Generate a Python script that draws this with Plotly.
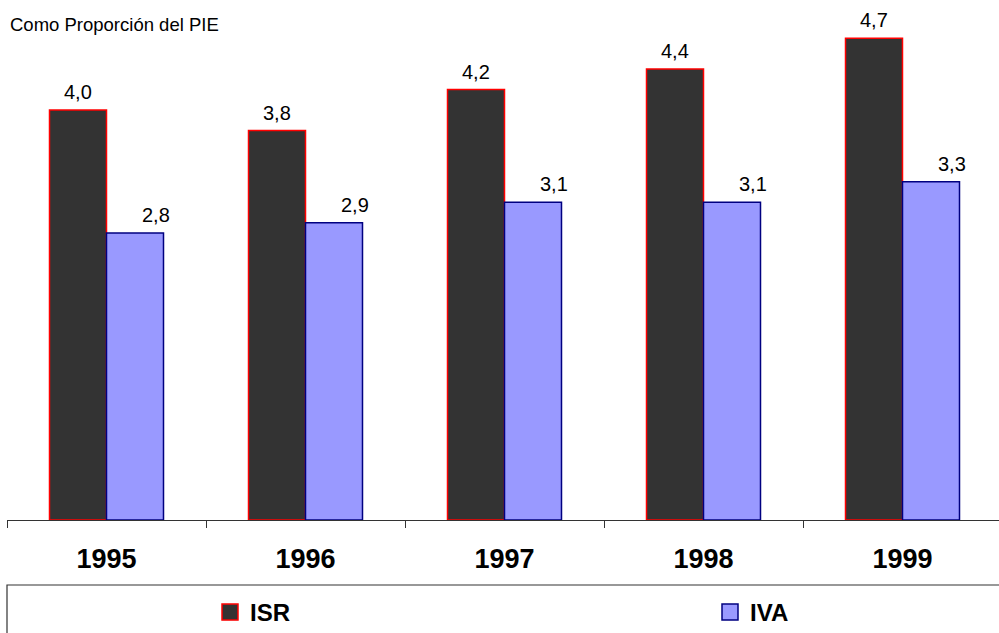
import plotly.graph_objects as go

# Recaudación como proporción del PIB, por año
years = ["1995", "1996", "1997", "1998", "1999"]
isr = [4.0, 3.8, 4.2, 4.4, 4.7]
iva = [2.8, 2.9, 3.1, 3.1, 3.3]

ISR_FILL, ISR_LINE = "#333333", "#FF0000"
IVA_FILL, IVA_LINE = "#9999FF", "#000080"

W, H = 999, 633
ML, MR, MT, MB = 7, 0, 30, 113
plot_w = W - ML - MR
plot_h = H - MT - MB
px_per_cat = 199
bar_px = 57
FONT = "Liberation Sans, Arial, sans-serif"

fig = go.Figure()
fig.add_trace(go.Bar(x=years, y=isr, name="ISR", showlegend=False,
                     marker=dict(color=ISR_FILL, line=dict(color=ISR_LINE, width=1.5))))
fig.add_trace(go.Bar(x=years, y=iva, name="IVA", showlegend=False,
                     marker=dict(color=IVA_FILL, line=dict(color=IVA_LINE, width=1.5))))

# legend entries with larger square swatches, one legend per series
fig.add_trace(go.Scatter(x=[None], y=[None], mode="markers", name="ISR", legend="legend",
                         marker=dict(symbol="square", size=16, color=ISR_FILL,
                                     line=dict(color=ISR_LINE, width=1.5))))
fig.add_trace(go.Scatter(x=[None], y=[None], mode="markers", name="IVA", legend="legend2",
                         marker=dict(symbol="square", size=16, color=IVA_FILL,
                                     line=dict(color=IVA_LINE, width=1.5))))

# value labels above each bar (comma decimal); x given as category index
label_font = dict(family=FONT, size=20, color="#000000")
for i, v in enumerate(isr):
    fig.add_annotation(x=i, y=v, text=f"{v:.1f}".replace(".", ","), showarrow=False,
                       xanchor="center", yanchor="bottom", xshift=-bar_px / 2, yshift=5,
                       font=label_font)
for i, v in enumerate(iva):
    fig.add_annotation(x=i, y=v, text=f"{v:.1f}".replace(".", ","), showarrow=False,
                       xanchor="center", yanchor="bottom", xshift=bar_px / 2 + 21, yshift=5,
                       font=label_font)

# frame around the legend strip
fig.add_shape(type="rect", xref="paper", yref="paper",
              x0=0, x1=1.05, y0=-65 / plot_h, y1=-0.4,
              line=dict(color="#333333", width=1.2), fillcolor="rgba(0,0,0,0)", layer="above")

legend_common = dict(orientation="h", xref="container", yref="container",
                     xanchor="left", y=1 - 590 / H, yanchor="top",
                     bgcolor="rgba(0,0,0,0)", borderwidth=0,
                     font=dict(family=FONT, size=24, color="#000000", weight=700))

fig.update_layout(
    width=W, height=H,
    margin=dict(l=ML, r=MR, t=MT, b=MB, pad=0, autoexpand=False),
    paper_bgcolor="#FFFFFF", plot_bgcolor="#FFFFFF",
    barmode="group", bargap=1 - 2 * bar_px / px_per_cat, bargroupgap=0,
    title=dict(text="Como Proporción del PIE", x=10 / W, xanchor="left",
               y=1 - 25 / H, yanchor="middle",
               font=dict(family=FONT, size=18.5, color="#000000")),
    xaxis=dict(type="category", range=[-0.5, -0.5 + plot_w / px_per_cat],
               showline=True, linecolor="#333333", linewidth=1.2,
               ticks="outside", tickson="boundaries", ticklen=7, tickcolor="#333333", tickwidth=1.2,
               tickfont=dict(family=FONT, size=27, color="#000000", weight=700),
               ticklabelstandoff=14, showgrid=False, zeroline=False),
    yaxis=dict(range=[0, plot_h / 102.5], visible=False, showgrid=False, zeroline=False),
    legend=dict(x=210 / W, **legend_common),
    legend2=dict(x=710 / W, **legend_common),
    showlegend=True,
)

fig.write_html("out.html")
